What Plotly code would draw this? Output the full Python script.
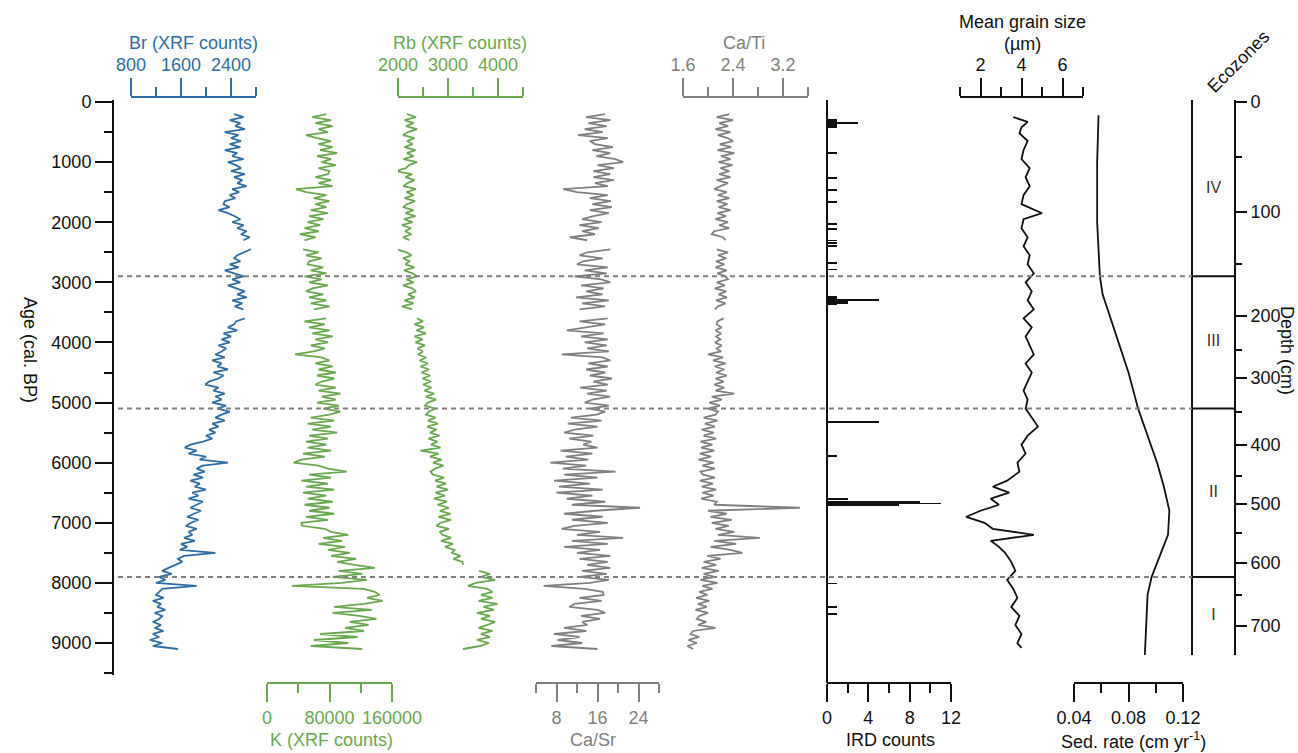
import plotly.graph_objects as go

W, H = 1298, 753

# ---------------- data ----------------
XRF_AGE = [
    200, 250, 300, 350, 400, 450, 500, 550, 600, 650,
    700, 750, 800, 850, 900, 950, 1000, 1050, 1100, 1150,
    1200, 1250, 1300, 1350, 1400, 1450, 1500, 1550, 1600, 1650,
    1700, 1750, 1800, 1850, 1900, 1950, 2000, 2050, 2100, 2150,
    2200, 2250, 2300, 2350, 2400, 2450, 2500, 2550, 2600, 2650,
    2700, 2750, 2800, 2850, 2900, 2950, 3000, 3050, 3100, 3150,
    3200, 3250, 3300, 3350, 3400, 3450, 3500, 3550, 3600, 3650,
    3700, 3750, 3800, 3850, 3900, 3950, 4000, 4050, 4100, 4150,
    4200, 4250, 4300, 4350, 4400, 4450, 4500, 4550, 4600, 4650,
    4700, 4750, 4800, 4850, 4900, 4950, 5000, 5050, 5100, 5150,
    5200, 5250, 5300, 5350, 5400, 5450, 5500, 5550, 5600, 5650,
    5700, 5750, 5800, 5850, 5900, 5950, 6000, 6050, 6100, 6150,
    6200, 6250, 6300, 6350, 6400, 6450, 6500, 6550, 6600, 6650,
    6700, 6750, 6800, 6850, 6900, 6950, 7000, 7050, 7100, 7150,
    7200, 7250, 7300, 7350, 7400, 7450, 7500, 7550, 7600, 7650,
    7700, 7750, 7800, 7850, 7900, 7950, 8000, 8050, 8100, 8150,
    8200, 8250, 8300, 8350, 8400, 8450, 8500, 8550, 8600, 8650,
    8700, 8750, 8800, 8850, 8900, 8950, 9000, 9050, 9100,
]

BR = [
    2450, 2600, 2380, 2550, 2470, 2620, 2300, 2520, 2400, 2560,
    2380, 2550, 2300, 2500, 2420, 2600, 2350, 2480, 2560, 2400,
    2620, 2450, 2580, 2500, 2650, 2420, 2530, 2380, 2470, 2300,
    2280, 2380, 2200, 2350, 2460, 2550, 2420, 2600, 2500, 2650,
    2560, 2700, 2600, None, None, 2720, 2600, 2500, 2450, 2550,
    2380, 2520, 2300, 2450, 2600, 2420, 2550, 2350, 2480, 2620,
    2500, 2650, 2420, 2580, 2460, 2600, None, None, 2620, 2480,
    2450, 2350, 2500, 2280, 2400, 2250, 2380, 2200, 2320, 2250,
    2150, 2300, 2100, 2250, 2180, 2350, 2120, 2280, 2200, 2050,
    1990, 2200, 2120, 2300, 2150, 2250, 2100, 2320, 2180, 2380,
    2250, 2150, 2300, 2100, 2200, 2050, 2150, 2000, 2100, 1950,
    1750, 1660, 1850, 1720, 2000, 1900, 2350, 1950, 1850, 1980,
    1800, 1950, 1750, 1900, 1820, 2000, 1780, 1880, 1720, 1950,
    1850, 1750, 1920, 1800, 1700, 1880, 1760, 1680, 1850, 1720,
    1780, 1650, 1820, 1600, 1700, 1580, 2150, 1650, 1550, 1620,
    1500, 1400, 1300, 1450, 1250, 1350, 1200, 1850, 1300, 1250,
    1200, 1320, 1150, 1280, 1220, 1350, 1180, 1300, 1250, 1150,
    1280, 1180, 1320, 1150, 1250, 1100, 1300, 1150, 1550,
]

K = [
    76000, 58000, 82000, 62000, 84000, 66000, 78000, 50000, 64000, 82000,
    66000, 84000, 68000, 90000, 64000, 82000, 70000, 88000, 66000, 80000,
    78000, 62000, 82000, 66000, 84000, 37000, 50000, 76000, 60000, 80000,
    62000, 76000, 56000, 78000, 54000, 72000, 52000, 68000, 48000, 66000,
    42000, 62000, 48000, None, None, 46000, 66000, 50000, 70000, 54000,
    52000, 72000, 56000, 76000, 48000, 70000, 54000, 78000, 58000, 50000,
    72000, 54000, 76000, 56000, 80000, 60000, None, None, 76000, 48000,
    74000, 54000, 80000, 58000, 84000, 62000, 78000, 56000, 74000, 60000,
    36000, 70000, 80000, 62000, 84000, 66000, 88000, 64000, 86000, 70000,
    62000, 88000, 66000, 94000, 70000, 88000, 64000, 92000, 72000, 94000,
    80000, 56000, 86000, 52000, 82000, 58000, 90000, 54000, 78000, 50000,
    76000, 52000, 82000, 46000, 74000, 44000, 34000, 66000, 78000, 102000,
    54000, 82000, 44000, 78000, 50000, 86000, 46000, 76000, 52000, 84000,
    48000, 80000, 54000, 86000, 50000, 78000, 44000, 45000, 74000, 82000,
    104000, 72000, 96000, 66000, 100000, 78000, 106000, 82000, 114000, 90000,
    112000, 138000, 92000, 122000, 84000, 128000, 96000, 32000, 124000, 138000,
    144000, 128000, 148000, 124000, 86000, 134000, 84000, 118000, 140000, 106000,
    130000, 100000, 124000, 68000, 116000, 60000, 104000, 56000, 122000,
]

RB = [
    2180, 2360, 2130, 2310, 2160, 2380, 2200, 2100, 2330, 2180,
    2290, 2130, 2350, 2180, 2310, 2110, 2380, 2220, 2160, 1950,
    2280, 2150, 2330, 2190, 2110, 2360, 2170, 2310, 2130, 2340,
    2180, 2100, 2310, 2150, 2350, 2120, 2290, 2080, 2260, 2140,
    2270, 2100, 2230, None, None, 1970, 2170, 2270, 2100, 2230,
    2150, 2330, 2120, 2290, 2380, 2170, 2310, 2100, 2280, 2360,
    2200, 2330, 2130, 2310, 2080, 2280, None, None, 2380, 2500,
    2330, 2520, 2370, 2560, 2330, 2490, 2350, 2540, 2390, 2500,
    2400, 2560, 2430, 2600, 2450, 2620, 2470, 2640, 2490, 2660,
    2500, 2670, 2530, 2720, 2560, 2760, 2600, 2540, 2740, 2620,
    2560, 2750, 2600, 2800, 2580, 2770, 2640, 2830, 2610, 2790,
    2660, 2850, 2450, 2810, 2640, 2870, 2700, 2910, 2740, 2650,
    2700, 2920, 2740, 2960, 2770, 3000, 2750, 2940, 2720, 2980,
    2790, 3020, 2840, 3050, 2810, 3060, 2850, 2770, 3020, 2840,
    2890, 3060, 2860, 3100, 2940, 3130, 3080, 3250, 3110, 3290,
    3300, None, 3620, 3840, 3660, 3940, 3560, 3400, 3790, 3890,
    3660, 3890, 3610, 3990, 3710, 3920, 3580, 3840, 3660, 3940,
    3790, 3610, 3890, 3660, 3840, 3580, 3820, 3640, 3300,
]

CA_SR = [
    17.5, 13.8, 18.5, 14.2, 17.8, 13.5, 17.0, 12.2, 18.0, 14.5,
    15.5, 19.0, 15.0, 18.5, 15.8, 19.5, 21.0, 16.0, 19.2, 15.2,
    18.5, 15.2, 19.2, 15.5, 18.0, 9.3, 12.0, 18.0, 14.5, 18.6,
    15.0, 18.8, 14.5, 18.2, 15.2, 13.0, 16.8, 12.5, 16.2, 13.0,
    15.5, 10.6, 14.0, None, None, 18.5, 14.0, 12.5, 17.0, 13.2,
    12.0, 18.0, 13.5, 17.8, 11.5, 16.8, 18.5, 12.8, 17.2, 13.8,
    17.0, 11.8, 18.2, 13.0, 17.5, 12.5, None, None, 18.0, 12.5,
    17.5, 13.8, 10.0, 17.2, 12.8, 18.0, 13.5, 17.8, 14.0, 18.2,
    9.0, 17.0, 18.5, 14.2, 18.0, 13.8, 17.5, 14.5, 18.8, 15.2,
    18.0, 12.6, 17.8, 14.0, 18.5, 15.0, 13.5, 18.2, 14.5, 17.5,
    15.8, 10.8, 16.8, 10.2, 16.0, 11.5, 9.5, 15.2, 10.5, 14.8,
    13.2, 16.0, 8.8, 15.0, 9.8, 14.2, 6.8, 13.8, 9.2, 19.5,
    9.5, 16.0, 7.5, 14.5, 8.5, 17.0, 8.0, 15.0, 10.0, 17.5,
    11.0, 24.3, 15.5, 9.5, 17.0, 11.0, 18.0, 11.5, 9.0, 16.5,
    12.0, 21.0, 11.0, 18.0, 9.5, 16.5, 12.0, 18.5, 12.5, 18.0,
    14.0, 18.5, 13.0, 17.8, 12.5, 18.2, 14.5, 5.5, 13.5, 17.0,
    17.2, 12.5, 16.8, 11.5, 10.5, 16.0, 17.5, 12.8, 16.5, 13.0,
    14.0, 9.5, 13.8, 7.5, 12.5, 8.2, 13.0, 7.0, 16.0,
]

CA_TI = [
    2.34, 2.14, 2.40, 2.18, 2.32, 2.12, 2.36, 2.16, 2.31, 2.40,
    2.19, 2.37, 2.15, 2.42, 2.21, 2.36, 2.17, 2.39, 2.20, 2.34,
    2.18, 2.36, 2.14, 2.32, 2.20, 2.10, 2.30, 2.16, 2.34, 2.14,
    2.31, 2.17, 2.36, 2.15, 2.29, 2.12, 2.32, 2.18, 2.34, 2.10,
    2.06, 2.24, 2.28, None, None, 2.14, 2.32, 2.16, 2.29, 2.13,
    2.26, 2.12, 2.30, 2.15, 2.28, 2.32, 2.14, 2.27, 2.11, 2.29,
    2.17, 2.30, 2.13, 2.28, 2.16, 2.11, None, None, 2.25, 2.15,
    2.14, 2.22, 2.12, 2.21, 2.13, 2.20, 2.11, 2.22, 2.14, 2.21,
    2.00, 2.24, 2.08, 2.28, 2.11, 2.26, 2.13, 2.30, 2.12, 2.25,
    2.10, 2.26, 2.12, 2.42, 2.06, 2.22, 2.02, 2.19, 2.00, 2.16,
    2.12, 1.93, 2.15, 1.95, 2.11, 1.90, 2.09, 1.93, 2.13, 1.88,
    2.07, 1.89, 2.10, 1.87, 2.05, 1.85, 2.09, 1.91, 2.11, 1.88,
    1.92, 2.11, 1.87, 2.08, 1.90, 2.13, 1.91, 2.09, 1.89, 2.14,
    2.10, 3.47, 2.00, 2.30, 2.04, 2.38, 2.06, 2.33, 2.12, 2.42,
    2.16, 2.83, 2.10, 2.45, 2.04, 2.36, 2.55, 1.99, 2.20, 1.93,
    2.13, 1.90, 2.17, 1.93, 2.10, 1.88, 2.15, 1.91, 2.07, 1.86,
    1.99, 1.81, 2.02, 1.84, 1.98, 1.80, 2.00, 1.86, 1.82, 1.97,
    1.84, 2.12, 1.76, 1.72, 1.86, 1.69, 1.82, 1.67, 1.76,
]

IRD_AGE = [300, 325, 345, 365, 390, 410, 850, 1265, 1470, 1670, 2030, 2110,
           2305, 2350, 2400, 2680, 2785, 3250, 3275, 3300, 3320, 3340, 3355,
           5330, 5890, 6605, 6660, 6680, 6700, 8010, 8405, 8520]
IRD_COUNT = [1, 1, 3, 1, 1, 1, 1, 1, 1, 1, 1, 1,
             1, 1, 1, 1, 1, 1, 1, 5, 2, 2, 1,
             5, 1, 2, 9, 11, 7, 1, 1, 1]

GS_AGE = [250, 330, 420, 520, 650, 800, 950, 1100, 1250, 1400,
          1550, 1700, 1850, 1950, 2100, 2250, 2400, 2550, 2700, 2850,
          3000, 3150, 3300, 3450, 3600, 3750, 3900, 4050, 4200, 4350,
          4500, 4650, 4800, 4950, 5100, 5250, 5400, 5550, 5700, 5850,
          6000, 6150, 6300, 6400, 6500, 6600, 6700, 6800, 6900, 7000,
          7100, 7200, 7300, 7400, 7500, 7650, 7800, 7950, 8100, 8250,
          8400, 8550, 8700, 8850, 9000, 9080]
GS_UM = [3.6, 4.3, 4.0, 3.9, 4.3, 4.1, 4.0, 4.4, 4.2, 4.4,
         4.1, 4.0, 5.0, 4.1, 4.0, 4.3, 4.1, 4.4, 4.3, 4.6,
         4.2, 4.5, 4.3, 4.6, 4.1, 4.5, 4.2, 4.4, 4.6, 4.2,
         4.5, 4.3, 4.1, 4.3, 4.2, 4.5, 4.8, 4.3, 4.0, 4.2,
         3.8, 3.9, 3.3, 2.6, 3.4, 2.5, 2.9, 2.0, 1.3, 2.2,
         2.6, 4.6, 2.5, 2.9, 3.2, 3.5, 3.7, 3.3, 3.6, 3.8,
         3.5, 3.9, 3.7, 4.0, 3.8, 4.0]

SED_AGE = [220, 1000, 2000, 2900, 3200, 3600, 4000, 4500, 5100, 5500,
           6000, 6400, 6800, 7200, 7500, 7900, 8200, 8700, 9200]
SED_RATE = [0.058, 0.057, 0.057, 0.059, 0.061, 0.067, 0.073, 0.080, 0.087, 0.093,
            0.101, 0.106, 0.110, 0.109, 0.104, 0.097, 0.094, 0.093, 0.092]

ZONE_BOUNDS = [2900, 5100, 7900]
ZONE_TOP, ZONE_BOTTOM = 0, 9200
ZONE_NAMES = ["IV", "III", "II", "I"]

DEPTH_MAJOR_CM = [0, 100, 200, 300, 400, 500, 600, 700]
DEPTH_MAJOR_AGE = [0, 1830, 3560, 4592, 5706, 6688, 7669, 8717]
DEPTH_MINOR_CM = [50, 150, 250, 350, 450, 550, 650]
DEPTH_MINOR_AGE = [915, 2695, 4126, 5157, 6222, 7170, 8202]

# ---------------- styling / geometry ----------------
BLUE = "#2f6ea5"
GREEN = "#6aa84f"
GREY = "#808080"
BLACK = "#111111"
FONT = "Liberation Sans, Arial, sans-serif"
FS = 18

AGE0_PY = 102.0
PY_PER_YR = 541.0 / 9000.0


def age_at(py):
    return (py - AGE0_PY) / PY_PER_YR


def fx(x):
    return x / W


def fy(y):
    return 1 - y / H


def xaxis(x0, x1, lo, hi, pos_y, side, color, dtick, tick0, mdtick, fmt=None):
    span = hi - lo
    d = dict(
        domain=[fx(x0), fx(x1)], range=[lo - span * 1e-6, hi + span * 1e-6],
        anchor="free", position=fy(pos_y), side=side,
        showline=True, linecolor=color, linewidth=2,
        ticks="outside", ticklen=18, tickwidth=2, tickcolor=color,
        tickfont=dict(color=color, size=FS, family=FONT),
        tickmode="linear", dtick=dtick, tick0=tick0,
        minor=dict(dtick=mdtick, tick0=tick0, ticks="outside", ticklen=9,
                   tickwidth=2, tickcolor=color),
        showgrid=False, zeroline=False, fixedrange=True,
    )
    if fmt:
        d["tickformat"] = fmt
    return d


fig = go.Figure()

line_w = 1.8
fig.add_trace(go.Scatter(x=BR, y=XRF_AGE, xaxis="x", yaxis="y", mode="lines",
                         line=dict(color=BLUE, width=line_w), connectgaps=False,
                         name="Br", showlegend=False))
fig.add_trace(go.Scatter(x=K, y=XRF_AGE, xaxis="x2", yaxis="y", mode="lines",
                         line=dict(color=GREEN, width=line_w), connectgaps=False,
                         name="K", showlegend=False))
fig.add_trace(go.Scatter(x=RB, y=XRF_AGE, xaxis="x3", yaxis="y", mode="lines",
                         line=dict(color=GREEN, width=line_w), connectgaps=False,
                         name="Rb", showlegend=False))
fig.add_trace(go.Scatter(x=CA_SR, y=XRF_AGE, xaxis="x4", yaxis="y", mode="lines",
                         line=dict(color=GREY, width=line_w), connectgaps=False,
                         name="Ca/Sr", showlegend=False))
fig.add_trace(go.Scatter(x=CA_TI, y=XRF_AGE, xaxis="x5", yaxis="y", mode="lines",
                         line=dict(color=GREY, width=line_w), connectgaps=False,
                         name="Ca/Ti", showlegend=False))
fig.add_trace(go.Bar(x=IRD_COUNT, y=IRD_AGE, orientation="h", xaxis="x6", yaxis="y4",
                     width=30, marker=dict(color=BLACK, line=dict(width=0)),
                     name="IRD", showlegend=False))
fig.add_trace(go.Scatter(x=GS_UM, y=GS_AGE, xaxis="x7", yaxis="y", mode="lines",
                         line=dict(color=BLACK, width=1.8), name="Grain size",
                         showlegend=False))
fig.add_trace(go.Scatter(x=SED_RATE, y=SED_AGE, xaxis="x8", yaxis="y2", mode="lines",
                         line=dict(color=BLACK, width=1.8), name="Sed. rate",
                         showlegend=False))
zone_edges = [ZONE_TOP] + ZONE_BOUNDS + [ZONE_BOTTOM]
zone_mid = [(zone_edges[i] + zone_edges[i + 1]) / 2 for i in range(len(ZONE_NAMES))]
fig.add_trace(go.Scatter(x=[0.5] * len(ZONE_NAMES), y=zone_mid, xaxis="x9", yaxis="y3",
                         mode="text", text=ZONE_NAMES,
                         textfont=dict(size=16, color="#333333", family=FONT),
                         showlegend=False, hoverinfo="skip"))

layout = dict(
    width=W, height=H, autosize=False,
    margin=dict(l=0, r=0, t=0, b=0, pad=0, autoexpand=False),
    paper_bgcolor="white", plot_bgcolor="rgba(0,0,0,0)",
    font=dict(family=FONT, size=FS, color=BLACK),
    showlegend=False, bargap=0,
    xaxis=xaxis(131, 256, 800, 2800, 97, "top", BLUE, 800, 800, 400),
    xaxis2=xaxis(267, 392, 0, 160000, 683, "bottom", GREEN, 80000, 0, 40000, fmt="d"),
    xaxis3=xaxis(398, 523, 2000, 4500, 97, "top", GREEN, 1000, 2000, 500, fmt="d"),
    xaxis4=xaxis(536, 659, 4, 28, 683, "bottom", GREY, 8, 0, 4),
    xaxis5=xaxis(683, 808, 1.6, 3.6, 97, "top", GREY, 0.8, 1.6, 0.4),
    xaxis6=xaxis(827, 951, 0, 12, 683, "bottom", BLACK, 4, 0, 2),
    xaxis7=xaxis(960, 1083, 1, 7, 97, "top", BLACK, 2, 0, 1),
    xaxis8=xaxis(1074, 1183, 0.04, 0.12, 683, "bottom", BLACK, 0.04, 0.0, 0.02),
    xaxis9=dict(domain=[fx(1192), fx(1235)], range=[0, 1], visible=False,
                anchor="y3", fixedrange=True),
    yaxis=dict(
        domain=[fy(675), fy(100)], range=[age_at(675), age_at(100)],
        anchor="free", position=fx(113), side="left",
        showline=True, linecolor=BLACK, linewidth=2,
        ticks="outside", ticklen=17, tickwidth=2, tickcolor=BLACK,
        tickmode="linear", dtick=1000, tick0=0, tickformat="d",
        tickfont=dict(size=FS, color=BLACK, family=FONT),
        minor=dict(dtick=500, tick0=0, ticks="outside", ticklen=8, tickwidth=2,
                   tickcolor=BLACK),
        showgrid=False, zeroline=False, fixedrange=True,
    ),
    yaxis2=dict(
        domain=[fy(655), fy(100)], range=[age_at(655), age_at(100)],
        anchor="free", position=fx(1235), side="right",
        showline=True, linecolor=BLACK, linewidth=2,
        ticks="outside", ticklen=11, tickwidth=2, tickcolor=BLACK,
        tickmode="array", tickvals=DEPTH_MAJOR_AGE,
        ticktext=[str(v) for v in DEPTH_MAJOR_CM],
        tickfont=dict(size=FS, color=BLACK, family=FONT),
        minor=dict(tickmode="array", tickvals=DEPTH_MINOR_AGE, ticks="outside",
                   ticklen=6, tickwidth=2, tickcolor=BLACK),
        showgrid=False, zeroline=False, fixedrange=True,
    ),
    yaxis3=dict(
        domain=[fy(655), fy(100)], range=[age_at(655), age_at(100)],
        anchor="free", position=fx(1192), side="left",
        showline=True, linecolor=BLACK, linewidth=2, ticks="",
        showticklabels=False, showgrid=False, zeroline=False, fixedrange=True,
    ),
    yaxis4=dict(
        domain=[fy(683), fy(100)], range=[age_at(683), age_at(100)],
        anchor="free", position=fx(827), side="left",
        showline=True, linecolor=BLACK, linewidth=2, ticks="",
        showticklabels=False, showgrid=False, zeroline=False, fixedrange=True,
    ),
)

shapes = []
for b in ZONE_BOUNDS:
    shapes.append(dict(type="line", xref="paper", yref="y", x0=fx(118), x1=fx(1192),
                       y0=b, y1=b, line=dict(color=GREY, width=2, dash="5px,4px"),
                       layer="above"))
    shapes.append(dict(type="line", xref="paper", yref="y", x0=fx(1192), x1=fx(1235),
                       y0=b, y1=b, line=dict(color=BLACK, width=2), layer="above"))
layout["shapes"] = shapes


def ann(text, cx, cy, color=BLACK, angle=0, size=FS):
    return dict(text=text, x=fx(cx), y=fy(cy), xref="paper", yref="paper",
                xanchor="center", yanchor="middle", showarrow=False,
                textangle=angle, font=dict(size=size, color=color, family=FONT))


layout["annotations"] = [
    ann("Br (XRF counts)", 193.5, 43, BLUE),
    ann("Rb (XRF counts)", 460, 43, GREEN),
    ann("Ca/Ti", 744, 43, GREY),
    ann("Mean grain size", 1022, 22),
    ann("(µm)", 1022, 44),
    ann("Ecozones", 1238, 62, angle=-45),
    ann("K (XRF counts)", 331, 740, GREEN),
    ann("Ca/Sr", 593, 740, GREY),
    ann("IRD counts", 890, 740),
    ann("Sed. rate (cm yr<sup>-1</sup>)", 1133, 740),
    ann("Age (cal. BP)", 30, 350, angle=90),
    ann("Depth (cm)", 1287, 350, angle=90),
]

fig.update_layout(**layout)

fig.write_html(
    "out.html",
    config={"displayModeBar": False, "staticPlot": True},
    post_script="document.body.style.margin='0';document.body.style.overflow='hidden';"
                "document.documentElement.style.overflow='hidden';",
)
